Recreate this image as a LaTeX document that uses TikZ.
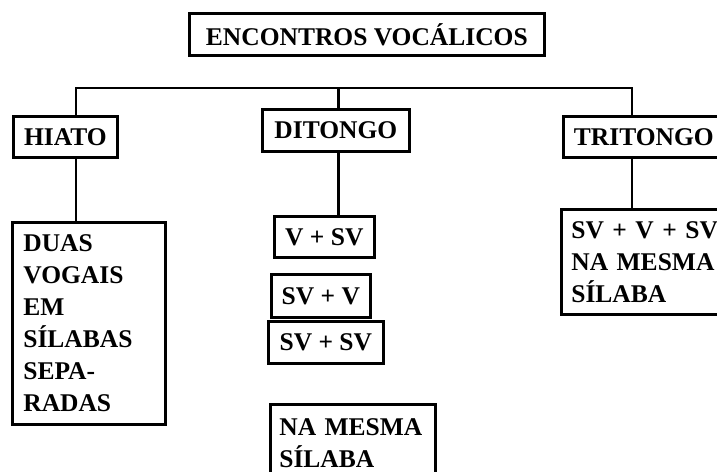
\documentclass[tikz,border=0pt]{standalone}
\usepackage{fontspec}
\setmainfont{Liberation Serif}
\begin{document}
\begin{tikzpicture}[x=1pt,y=-1pt,
  box/.style={draw, line width=2.7pt, inner sep=0pt, anchor=north west,
    font=\bfseries\fontsize{25.5}{32}\selectfont},
  conn/.style={line width=2.7pt}]
\clip (0,0) rectangle (717,471);
\node[box, minimum width=355pt, minimum height=42pt] (title) at (188,12) {ENCONTROS VOCÁLICOS};
\node[box, minimum width=104pt, minimum height=41pt] (hiato) at (12,115) {HIATO};
\node[box, minimum width=147pt, minimum height=42pt] (ditongo) at (261,108) {DITONGO};
\node[box, minimum width=161pt, minimum height=41pt] (tritongo) at (562,115) {TRITONGO};
\node[box, minimum width=100pt, minimum height=41pt] (vsv) at (273,215) {V + SV};
\node[box, minimum width=99pt, minimum height=43pt] (svv) at (270,273) {SV + V};
\node[box, minimum width=115pt, minimum height=42pt] (svsv) at (267,320) {SV + SV};
\node[box, minimum width=165pt, minimum height=70pt, text width=147pt, align=left] (mesma) at (269,403) {\rule{0pt}{24pt}NA MESMA\\SÍLABA};
\node[box, minimum width=153pt, minimum height=202pt, text width=131pt, align=left] (duas) at (11,221) {DUAS\\VOGAIS\\EM\\SÍLABAS\\SEPA-\\RADAS};
\node[box, minimum width=170pt, minimum height=105pt, text width=150pt, align=left] (sv3) at (560,208) {SV + V + SV\\NA MESMA\\SÍLABA};
\coordinate (jl) at (76,88);
\coordinate (jc) at (338.5,88);
\coordinate (jr) at (632,88);
\draw[conn] (jl |- hiato.north) -- (jl) -- (jr) -- (jr |- tritongo.north);
\draw[conn] (jc) -- (jc |- ditongo.north);
\draw[conn] (jl |- hiato.south) -- (jl |- duas.north);
\draw[conn] (jc |- ditongo.south) -- (jc |- vsv.north);
\draw[conn] (jr |- tritongo.south) -- (jr |- sv3.north);
\end{tikzpicture}
\end{document}
